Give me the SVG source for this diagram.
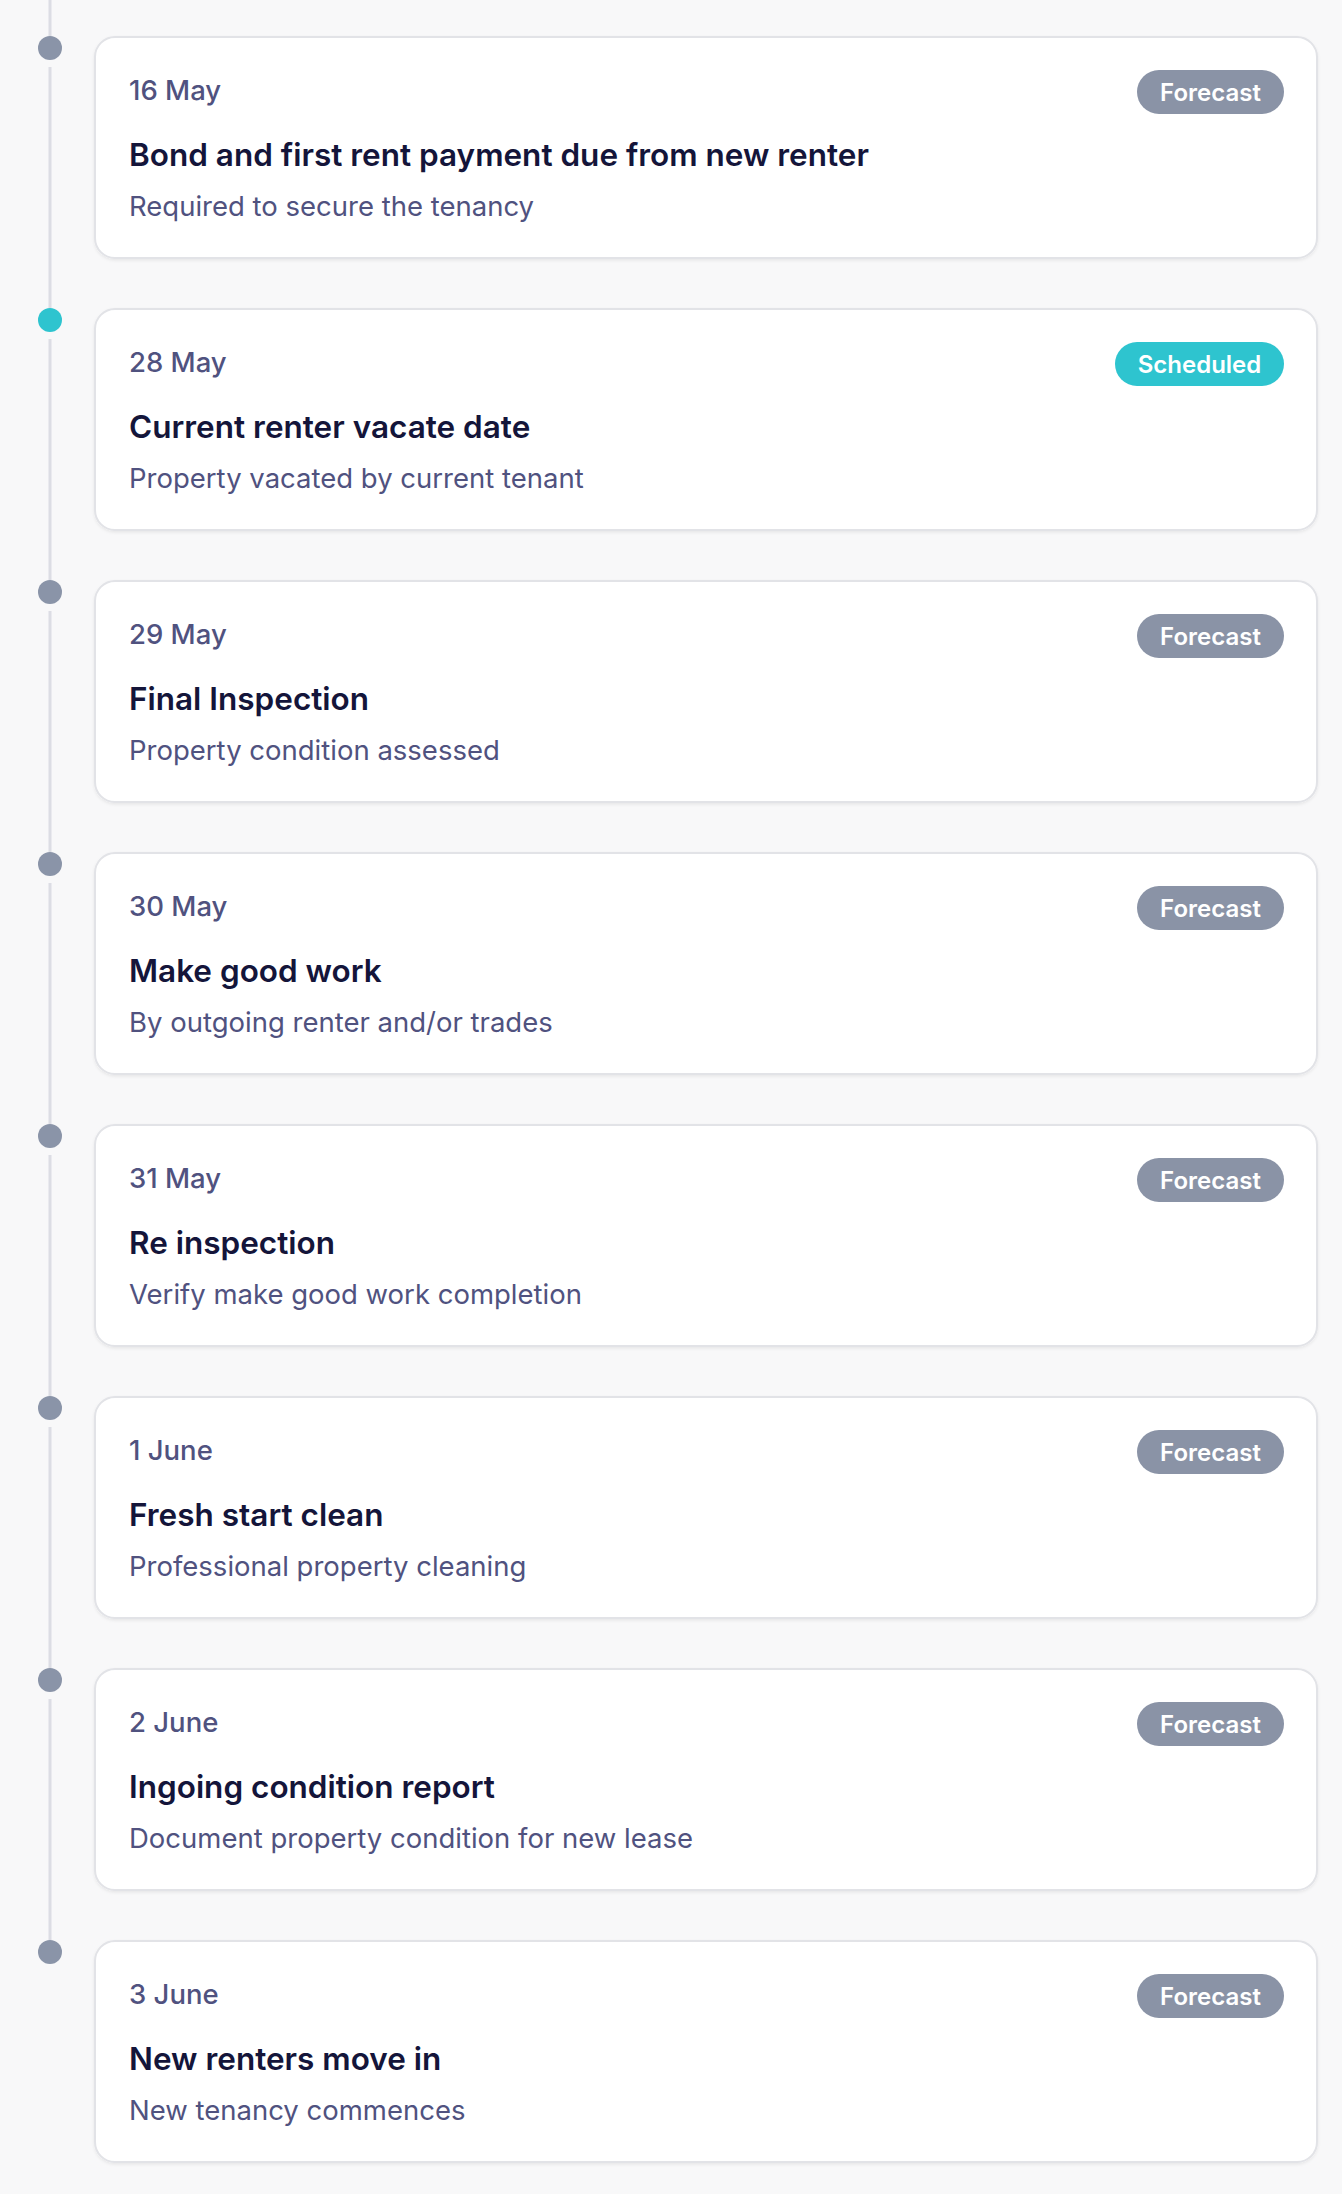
<svg xmlns="http://www.w3.org/2000/svg" width="1342" height="2194" viewBox="0 0 1342 2194">
<defs>
<filter id="sh" x="-5%" y="-10%" width="110%" height="130%">
<feDropShadow dx="0" dy="1.5" stdDeviation="1.5" flood-color="#000" flood-opacity="0.07"/>
</filter>
<style>
.card{fill:#ffffff;stroke:#e2e3e7;stroke-width:2;filter:url(#sh)}
.dot{fill:#8a94a8}
.dot.on{fill:#2ec4cf}
.date{font-family:Inter,"Liberation Sans",sans-serif;font-size:27.5px;font-weight:500;fill:#50527f}
.title{font-family:Inter,"Liberation Sans",sans-serif;font-size:31.5px;font-weight:600;fill:#14153a}
.desc{font-family:Inter,"Liberation Sans",sans-serif;font-size:27.5px;font-weight:400;fill:#50527f}
.pill{fill:#8a93a6}
.pill.on{fill:#2ec4cf}
.ptxt{font-family:Inter,"Liberation Sans",sans-serif;font-size:24px;font-weight:600;fill:#ffffff;text-anchor:middle}
.line{stroke:#dcdde4;stroke-width:3}
</style>
</defs>
<rect width="1342" height="2194" fill="#f8f8f9"/>
<g id="connectors">
<line class="line" x1="50" y1="0" x2="50" y2="36"/>
<line class="line" x1="50" y1="67" x2="50" y2="308"/>
<line class="line" x1="50" y1="339" x2="50" y2="580"/>
<line class="line" x1="50" y1="611" x2="50" y2="852"/>
<line class="line" x1="50" y1="883" x2="50" y2="1124"/>
<line class="line" x1="50" y1="1155" x2="50" y2="1396"/>
<line class="line" x1="50" y1="1427" x2="50" y2="1668"/>
<line class="line" x1="50" y1="1699" x2="50" y2="1940"/>
</g>
<g id="item1" transform="translate(0,0)">
<circle class="dot" cx="50" cy="48" r="12"/>
<rect class="card" x="95" y="37" width="1222" height="221" rx="20"/>
<text class="date" x="129" y="99.5">16 May</text>
<text class="title" x="129" y="165.5">Bond and first rent payment due from new renter</text>
<text class="desc" x="129" y="216">Required to secure the tenancy</text>
<rect class="pill" x="1137" y="70" width="147" height="44" rx="22"/>
<text class="ptxt" x="1210.5" y="100.5">Forecast</text>
</g>
<g id="item2" transform="translate(0,272)">
<circle class="dot on" cx="50" cy="48" r="12"/>
<rect class="card" x="95" y="37" width="1222" height="221" rx="20"/>
<text class="date" x="129" y="99.5">28 May</text>
<text class="title" x="129" y="165.5">Current renter vacate date</text>
<text class="desc" x="129" y="216">Property vacated by current tenant</text>
<rect class="pill on" x="1115" y="70" width="169" height="44" rx="22"/>
<text class="ptxt" x="1199.5" y="100.5">Scheduled</text>
</g>
<g id="item3" transform="translate(0,544)">
<circle class="dot" cx="50" cy="48" r="12"/>
<rect class="card" x="95" y="37" width="1222" height="221" rx="20"/>
<text class="date" x="129" y="99.5">29 May</text>
<text class="title" x="129" y="165.5">Final Inspection</text>
<text class="desc" x="129" y="216">Property condition assessed</text>
<rect class="pill" x="1137" y="70" width="147" height="44" rx="22"/>
<text class="ptxt" x="1210.5" y="100.5">Forecast</text>
</g>
<g id="item4" transform="translate(0,816)">
<circle class="dot" cx="50" cy="48" r="12"/>
<rect class="card" x="95" y="37" width="1222" height="221" rx="20"/>
<text class="date" x="129" y="99.5">30 May</text>
<text class="title" x="129" y="165.5">Make good work</text>
<text class="desc" x="129" y="216">By outgoing renter and/or trades</text>
<rect class="pill" x="1137" y="70" width="147" height="44" rx="22"/>
<text class="ptxt" x="1210.5" y="100.5">Forecast</text>
</g>
<g id="item5" transform="translate(0,1088)">
<circle class="dot" cx="50" cy="48" r="12"/>
<rect class="card" x="95" y="37" width="1222" height="221" rx="20"/>
<text class="date" x="129" y="99.5">31 May</text>
<text class="title" x="129" y="165.5">Re inspection</text>
<text class="desc" x="129" y="216">Verify make good work completion</text>
<rect class="pill" x="1137" y="70" width="147" height="44" rx="22"/>
<text class="ptxt" x="1210.5" y="100.5">Forecast</text>
</g>
<g id="item6" transform="translate(0,1360)">
<circle class="dot" cx="50" cy="48" r="12"/>
<rect class="card" x="95" y="37" width="1222" height="221" rx="20"/>
<text class="date" x="129" y="99.5">1 June</text>
<text class="title" x="129" y="165.5">Fresh start clean</text>
<text class="desc" x="129" y="216">Professional property cleaning</text>
<rect class="pill" x="1137" y="70" width="147" height="44" rx="22"/>
<text class="ptxt" x="1210.5" y="100.5">Forecast</text>
</g>
<g id="item7" transform="translate(0,1632)">
<circle class="dot" cx="50" cy="48" r="12"/>
<rect class="card" x="95" y="37" width="1222" height="221" rx="20"/>
<text class="date" x="129" y="99.5">2 June</text>
<text class="title" x="129" y="165.5">Ingoing condition report</text>
<text class="desc" x="129" y="216">Document property condition for new lease</text>
<rect class="pill" x="1137" y="70" width="147" height="44" rx="22"/>
<text class="ptxt" x="1210.5" y="100.5">Forecast</text>
</g>
<g id="item8" transform="translate(0,1904)">
<circle class="dot" cx="50" cy="48" r="12"/>
<rect class="card" x="95" y="37" width="1222" height="221" rx="20"/>
<text class="date" x="129" y="99.5">3 June</text>
<text class="title" x="129" y="165.5">New renters move in</text>
<text class="desc" x="129" y="216">New tenancy commences</text>
<rect class="pill" x="1137" y="70" width="147" height="44" rx="22"/>
<text class="ptxt" x="1210.5" y="100.5">Forecast</text>
</g>
</svg>
